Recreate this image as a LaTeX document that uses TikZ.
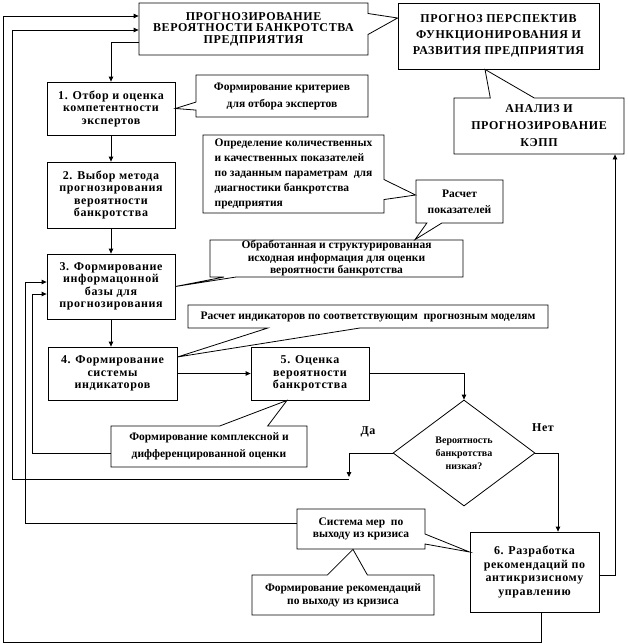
\documentclass[tikz,border=0pt]{standalone}
\usepackage{fontspec}
\setmainfont{Liberation Serif}
\newfontfamily\boxfont[LetterSpace=5]{Liberation Serif}
\usetikzlibrary{arrows.meta,shapes.geometric,shapes.callouts}
\tikzset{
  every picture/.style={line join=miter, >={Triangle[length=5pt,width=4.5pt]}},
  stage/.style={draw, line width=0.8pt, inner sep=0pt, align=center, font=\boxfont\bfseries\fontsize{12}{12.5}\selectfont},
  remark/.style={rectangle callout, draw, fill=white, line width=0.8pt, inner sep=0pt, align=center, callout pointer width=12pt, font=\bfseries\fontsize{11.5}{15}\selectfont},
  ask/.style={diamond, draw, line width=0.8pt, inner sep=0pt, aspect=1.34, align=center, font=\bfseries\fontsize{10}{13}\selectfont},
  flow/.style={->, line width=0.8pt},
  answer/.style={font=\boxfont\bfseries\fontsize{12}{14}\selectfont},
}

\begin{document}
\begin{tikzpicture}[x=1pt,y=-1pt]
\useasboundingbox (0,0) rectangle (627,643);
\node[stage,minimum width=201pt,minimum height=66pt,font=\boxfont\bfseries\fontsize{12}{16}\selectfont] (r) at (498.5,36) {ПРОГНОЗ ПЕРСПЕКТИВ\\ФУНКЦИОНИРОВАНИЯ И\\РАЗВИТИЯ ПРЕДПРИЯТИЯ};
\node[remark,minimum width=229pt,minimum height=52pt,callout pointer width=21pt,font=\boxfont\bfseries\fontsize{12}{11.5}\selectfont,callout absolute pointer={(r.west |- 0,18)}] (p) at (253.5,29) {ПРОГНОЗИРОВАНИЕ\\ВЕРОЯТНОСТИ БАНКРОТСТВА\\ПРЕДПРИЯТИЯ};
\node[remark,minimum width=170pt,minimum height=56pt,callout pointer width=44pt,font=\boxfont\bfseries\fontsize{12}{17}\selectfont,callout absolute pointer={(485,0 |- r.south)}] (k) at (539,126) {АНАЛИЗ И\\ПРОГНОЗИРОВАНИЕ\\КЭПП};

\node[stage,minimum width=128pt,minimum height=53pt] (b1) at (111,108.5) {1. Отбор и оценка\\компетентности\\экспертов};
\node[stage,minimum width=128pt,minimum height=66pt] (b2) at (111,195) {2. Выбор метода\\прогнозирования\\вероятности\\банкротства};
\node[stage,minimum width=128pt,minimum height=65pt] (b3) at (111,286.5) {3. Формирование\\информацонной\\базы для\\прогнозирования};
\node[stage,minimum width=129pt,minimum height=53pt] (b4) at (112.5,373.5) {4. Формирование\\системы\\индикаторов};
\node[stage,minimum width=118pt,minimum height=53pt] (b5) at (310,373.5) {5. Оценка\\вероятности\\банкротства};
\node[ask,minimum width=142pt,minimum height=106pt] (d) at (464,453) {Вероятность\\банкротства\\низкая?};
\node[stage,minimum width=129pt,minimum height=80pt,font=\boxfont\bfseries\fontsize{12}{13.5}\selectfont] (b6) at (534.5,572) {6. Разработка\\рекомендаций по\\антикризисному\\управлению};

\node[remark,minimum width=172pt,minimum height=42pt,callout pointer width=8pt,font=\bfseries\fontsize{11.5}{17}\selectfont,callout absolute pointer={(b1.east)}] (c1) at (282,96) {Формирование критериев\\для отбора экспертов};
\node[remark,minimum width=253pt,minimum height=37pt,font=\bfseries\fontsize{11.5}{12.5}\selectfont,callout absolute pointer={(b3.east)}] (c4) at (336.5,258.5) {Обработанная и структурированная\\исходная информация для оценки\\вероятности банкротства};
\node[remark,minimum width=87pt,minimum height=43pt,callout pointer width=15pt,font=\bfseries\fontsize{11.5}{16}\selectfont,callout absolute pointer={(415,0 |- c4.north)}] (c3) at (459.5,201.5) {Расчет\\показателей};
\node[remark,minimum width=181pt,minimum height=78pt,callout pointer width=20pt,align=left,callout absolute pointer={(c3.west |- 0,195)}] (c2) at (293.5,174) {Определение количественных\\и качественных показателей\\по заданным параметрам\ \ для\\диагностики банкротства\\предприятия};
\node[remark,minimum width=360pt,minimum height=23pt,callout pointer width=92pt,callout absolute pointer={(b4.east |- 0,357)}] (c5) at (368,316.5) {Расчет индикаторов по соответствующим\ \ прогнозным моделям};
\node[remark,minimum width=196pt,minimum height=41pt,callout pointer width=48pt,font=\bfseries\fontsize{11.5}{17}\selectfont,callout absolute pointer={(287,0 |- b5.south)}] (c6) at (209,446.5) {Формирование комплексной и\\дифференцированной оценки};
\node[remark,minimum width=128pt,minimum height=40pt,callout pointer width=10pt,font=\bfseries\fontsize{11.5}{11.5}\selectfont,callout absolute pointer={(b6.west |- 0,552)}] (c7) at (361,529) {Система мер\ \ по\\выходу из кризиса};
\node[remark,minimum width=182pt,minimum height=40pt,callout pointer width=40pt,font=\bfseries\fontsize{11.5}{13}\selectfont,callout absolute pointer={(353,0 |- c7.south)}] (c8) at (343,595) {Формирование рекомендаций\\по выходу из кризиса};

\node[answer] (yes) at (368,432) {Да};
\node[answer] (no) at (543,428) {Нет};

\draw[flow] (p.west |- 0,42) -| (b1.north);
\draw[flow] (b1.south) -- (b2.north);
\draw[flow] (b2.south) -- (b3.north);
\draw[flow] (b3.south) -- (b3.south |- b4.north);
\draw[flow] (b4.east) -- (b5.west);
\draw[flow] (b5.east) -| (d.north);
\draw[flow] (d.east) -| (b6.north -| 558,0);
\draw[flow] (d.west) -| (349,477);
\draw[flow] (349,479) -| (12,30) -- (p.west |- 0,30);
\draw[flow] (c7.west |- 0,523) -| (25,282) -- (b3.west |- 0,282);
\draw[flow] (c6.west |- 0,453) -| (32,294) -- (b3.west |- 0,294);
\draw[flow] (b6.south -| 541,0) -- (541,642) -| (3,16) -- (p.west |- 0,16);
\draw[flow] (b6.east |- 0,575) -| (k.south -| 615,0);
\end{tikzpicture}
\end{document}
